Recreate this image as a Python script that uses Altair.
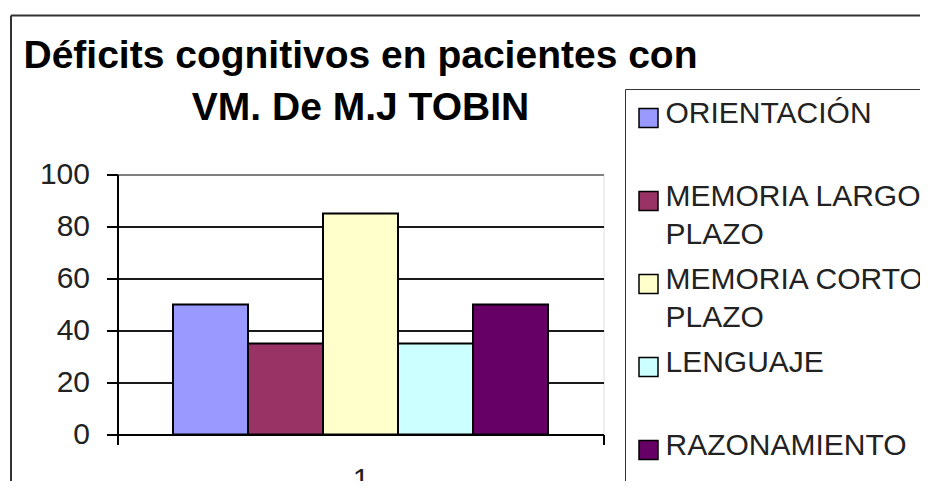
import altair as alt
import pandas as pd

# ---- data ----
categoria = ["1", "1", "1", "1", "1"]
series = ["ORIENTACIÓN", "MEMORIA LARGO PLAZO", "MEMORIA CORTO PLAZO", "LENGUAJE", "RAZONAMIENTO"]
valores = [50, 35, 85, 35, 50]
colores = ["#9999FF", "#993366", "#FFFFCC", "#CCFFFF", "#660066"]
y_ticks = [0, 20, 40, 60, 80, 100]
titulo = ["Déficits cognitivos en pacientes con", "VM. De M.J TOBIN"]

df = pd.DataFrame({"grupo": categoria, "serie": series, "valor": valores})

FONT = "Liberation Sans"

bars = alt.Chart(df).mark_bar(stroke="black", strokeWidth=2).encode(
    x=alt.X(
        "grupo:N",
        scale=alt.Scale(paddingInner=0, paddingOuter=0),
        axis=alt.Axis(
            title=None, labelAngle=0, tickBand="extent", tickSize=10,
            tickColor="black", tickWidth=2, domainColor="black", domainWidth=2,
            labelFont=FONT, labelFontSize=30, labelColor="#222", labelPadding=20,
            grid=False,
        ),
    ),
    xOffset=alt.XOffset("serie:N", sort=series,
                        scale=alt.Scale(paddingInner=0, paddingOuter=0.74)),
    y=alt.Y(
        "valor:Q",
        scale=alt.Scale(domain=[0, 100], nice=False),
        axis=alt.Axis(
            title=None, values=y_ticks, tickSize=11, tickColor="black", tickWidth=2,
            domainColor="black", domainWidth=2, labelFont=FONT, labelFontSize=30,
            labelColor="#222", labelPadding=17, grid=True, gridWidth=2,
            gridColor=alt.condition("datum.value == 100", alt.value("#808080"), alt.value("#1a1a1a")),
        ),
    ),
    color=alt.Color(
        "serie:N",
        sort=series,
        scale=alt.Scale(domain=series, range=colores),
        legend=alt.Legend(
            title=None, orient="none", legendX=507.5, legendY=-85.5,
            strokeColor="#333", fillColor="white", padding=19, rowPadding=15,
            symbolType="M-1,-1.53L1,-1.53L1,0.47L-1,0.47Z", symbolSize=361,
            symbolStrokeColor="black", symbolStrokeWidth=1.5, symbolOpacity=1,
            symbolOffset=alt.ExprRef(expr="-10.5"), labelOffset=2,
            labelFont=FONT, labelFontSize=30, labelColor="#222", labelLimit=600,
            labelBaseline="alphabetic",
            labelExpr="indexof(datum.label, ' PLAZO') > 0 ? [replace(datum.label, ' PLAZO', ''), 'PLAZO'] : [datum.label, '']",
        ),
    ),
)

frame = alt.Chart(alt.Data(values=[{}]))
border_top = frame.mark_rule(color="#333", strokeWidth=2).encode(
    x=alt.value(-106.5), x2=alt.value(820), y=alt.value(-159)
)
border_left = frame.mark_rule(color="#333", strokeWidth=2).encode(
    x=alt.value(-106.5), y=alt.value(-159), y2=alt.value(320)
)

chart = alt.layer(bars, border_top, border_left).properties(
    width=486,
    height=260,
    autosize=alt.AutoSizeParams(type="none"),
    padding={"left": 109.5, "top": 166.5, "right": 316.5, "bottom": 46.5},
    title=alt.Title(
        titulo, font=FONT, fontSize=39, fontWeight="bold", color="black",
        anchor="middle", frame="group", baseline="top", lineHeight=52, offset=-113,
    ),
).configure_view(
    fill="#C0C0C0", stroke="#808080", strokeWidth=2
).configure_legend(
    strokeWidth=2
).configure(
    background="white",
    style={"guide-label": {"lineHeight": 38}},
)

chart.save("out.html", embed_options={"renderer": "svg", "actions": False})
